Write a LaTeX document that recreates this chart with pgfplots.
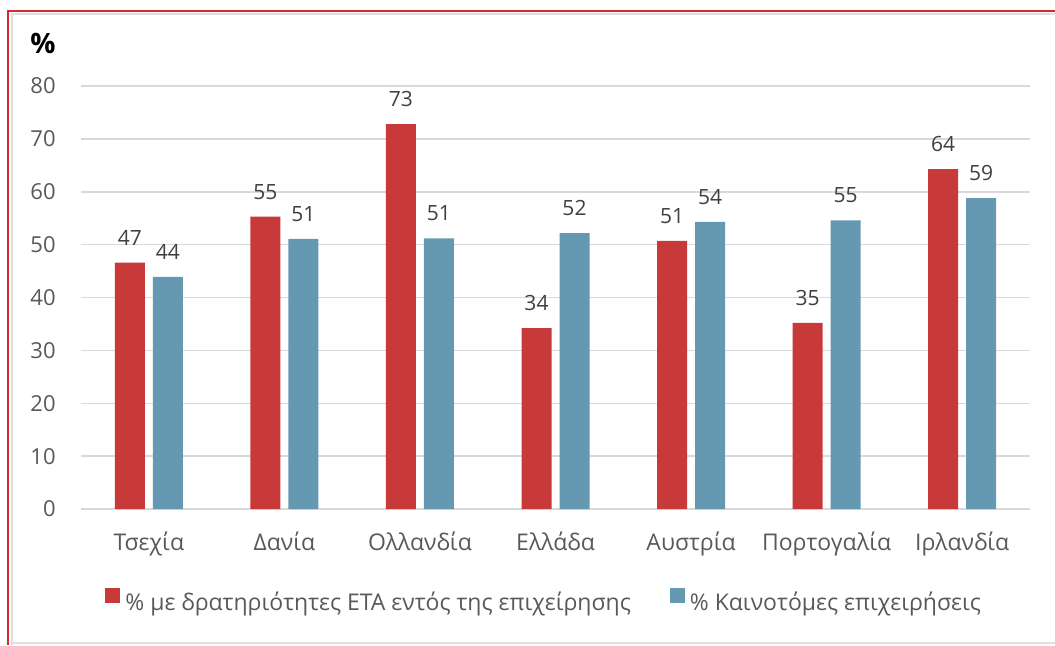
\documentclass[border=0pt]{standalone}
\usepackage{fontspec}
\setmainfont{Open Sans}
\usepackage{pgfplots}
\pgfplotsset{compat=1.18}
\definecolor{cred}{RGB}{200,58,58}
\definecolor{cblue}{RGB}{101,153,177}
\definecolor{gridc}{RGB}{217,217,217}
\definecolor{tickc}{RGB}{89,89,89}
\definecolor{lblc}{RGB}{64,64,64}
\definecolor{framec}{RGB}{214,40,48}
\begin{document}
\begin{tikzpicture}
\useasboundingbox (0,0) rectangle (527.5pt,-322.5pt);
\fill[white] (0,0) rectangle (527.5pt,-322.5pt);
\draw[gray!25, line width=1pt] (5.9pt,-322.5pt) -- (5.9pt,-6.9pt) -- (527.5pt,-6.9pt);
\draw[gray!25, line width=1pt] (5.9pt,-321.6pt) -- (527.5pt,-321.6pt);
\draw[framec, line width=1pt] (4pt,-322.5pt) -- (4pt,-5.3pt) -- (527.5pt,-5.3pt);
\node[font=\bfseries\fontsize{14}{14}\selectfont, text=black, inner sep=0pt] at (21.5pt,-21.5pt) {\%};
\begin{axis}[
  at={(40.5pt,-254.5pt)}, anchor=south west,
  scale only axis, width=474.5pt, height=211.5pt,
  xmin=-0.5, xmax=6.5, ymin=0, ymax=80,
  ybar, bar width=15pt,
  clip=false,
  axis line style={draw=none},
  major tick length=0pt,
  ymajorgrids, grid style={gridc, line width=0.75pt},
  xtick={0,1,2,3,4,5,6},
  xticklabels={Τσεχία,Δανία,Ολλανδία,Ελλάδα,Αυστρία,Πορτογαλία,Ιρλανδία},
  ytick={0,10,20,30,40,50,60,70,80},
  /pgf/number format/assume math mode=true,
  xticklabel style={anchor=base, inner sep=0pt, yshift=-20.5pt, font=\fontsize{11.5}{12}\selectfont, text=tickc},
  yticklabel style={anchor=east, inner sep=0pt, xshift=-12.5pt, font=\fontsize{11}{12}\selectfont, text=tickc},
  point meta=y,
  nodes near coords,
  nodes near coords style={anchor=south, inner sep=0pt, yshift=8.5pt, font=\fontsize{10.5}{12}\selectfont, text=lblc, /pgf/number format/.cd, fixed, precision=0, assume math mode=true},
  legend columns=2,
  legend image code/.code={\fill[#1] (0pt,0pt) rectangle (7.5pt,7.5pt);},
  legend style={draw=none, fill=none, at={(0.0253,-0.2175)}, anchor=west, inner sep=0pt,
    font=\fontsize{11.5}{12}\selectfont, text=tickc,
    nodes={inner xsep=2.5pt, inner ysep=0pt},
    /tikz/every even column/.append style={column sep=17pt}},
]
\addplot[fill=cred, draw=none, bar shift=-9.5pt] coordinates {
  (0,46.6) (1,55.3) (2,72.8) (3,34.2) (4,50.7) (5,35.2) (6,64.3)};
\addplot[fill=cblue, draw=none, bar shift=9.5pt] coordinates {
  (0,43.9) (1,51.1) (2,51.2) (3,52.2) (4,54.3) (5,54.6) (6,58.8)};
\legend{\% με δρατηριότητες ΕΤΑ εντός της επιχείρησης, \% Καινοτόμες επιχειρήσεις}
\end{axis}
\end{tikzpicture}
\end{document}
